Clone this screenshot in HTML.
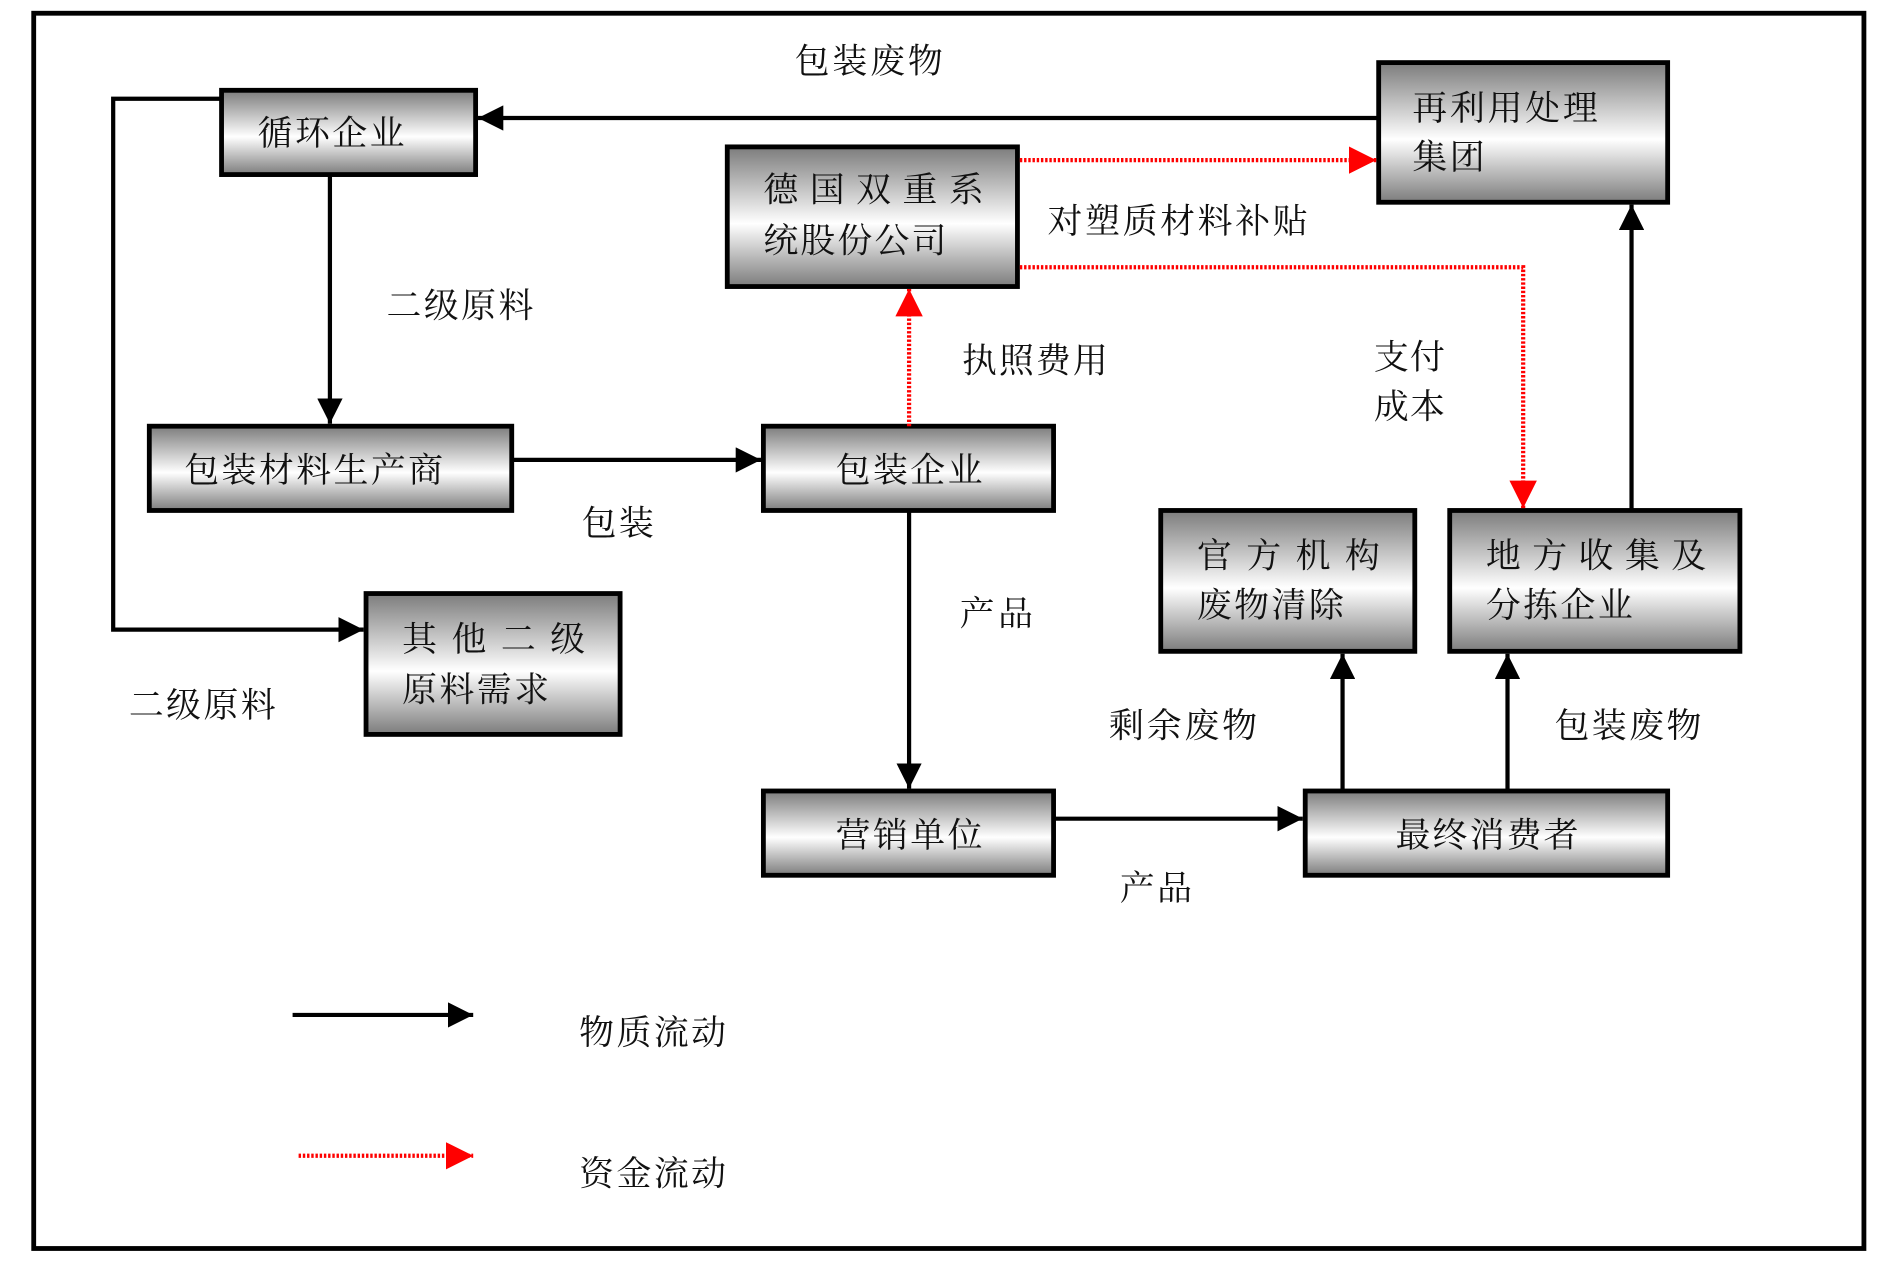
<!DOCTYPE html>
<html><head><meta charset="utf-8"><style>
html,body{margin:0;padding:0;background:#fff;}
svg{display:block;}
text{font-family:"Liberation Serif","Noto Serif CJK SC",serif;font-size:29px;fill:#111;dominant-baseline:central;}
</style></head><body>
<svg width="1888" height="1281" viewBox="0 0 1568 1064" preserveAspectRatio="none" xmlns="http://www.w3.org/2000/svg">
<defs>
<linearGradient id="g" x1="0" y1="0" x2="0" y2="1">
<stop offset="0" stop-color="#7c7c7c"/>
<stop offset="0.55" stop-color="#ffffff"/>
<stop offset="1" stop-color="#7c7c7c"/>
</linearGradient>
<marker id="ab" viewBox="0 0 10 10" refX="10" refY="5" markerWidth="6" markerHeight="6" markerUnits="strokeWidth" orient="auto"><path d="M0,0L10,5L0,10z" fill="#000"/></marker>
<marker id="ar" viewBox="0 0 10 10" refX="10" refY="5" markerWidth="6.5" markerHeight="6.5" markerUnits="strokeWidth" orient="auto"><path d="M0,0L10,5L0,10z" fill="#f00"/></marker>
</defs>
<rect x="28" y="11" width="1520" height="1026" fill="none" stroke="#000" stroke-width="4"/>

<g stroke="#000" stroke-width="4" fill="url(#g)">
<rect x="184" y="75" width="211" height="70"/>
<rect x="1145" y="52" width="240" height="116"/>
<rect x="604" y="122" width="241" height="116"/>
<rect x="124" y="354" width="301" height="70"/>
<rect x="634" y="354" width="241" height="70"/>
<rect x="304" y="493" width="211" height="117"/>
<rect x="964" y="424" width="211" height="117"/>
<rect x="1204" y="424" width="241" height="117"/>
<rect x="634" y="657" width="241" height="70"/>
<rect x="1084" y="657" width="301" height="70"/>
</g>

<g stroke="#000" stroke-width="3.5" fill="none">
<line x1="1145" y1="98" x2="397" y2="98" marker-end="url(#ab)"/>
<polyline points="184,82 94,82 94,523 302,523" marker-end="url(#ab)"/>
<line x1="274" y1="145" x2="274" y2="352" marker-end="url(#ab)"/>
<line x1="425" y1="382" x2="632" y2="382" marker-end="url(#ab)"/>
<line x1="755" y1="424" x2="755" y2="655" marker-end="url(#ab)"/>
<line x1="875" y1="680" x2="1082" y2="680" marker-end="url(#ab)"/>
<line x1="1115" y1="657" x2="1115" y2="543" marker-end="url(#ab)"/>
<line x1="1252" y1="657" x2="1252" y2="543" marker-end="url(#ab)"/>
<line x1="1355" y1="424" x2="1355" y2="170" marker-end="url(#ab)"/>
<line x1="243" y1="843" x2="393" y2="843" marker-end="url(#ab)"/>
</g>
<g stroke="#f00" stroke-width="3.5" fill="none" stroke-dasharray="2 1.5">
<line x1="755" y1="354" x2="755" y2="240" marker-end="url(#ar)"/>
<line x1="847" y1="133" x2="1143" y2="133" marker-end="url(#ar)"/>
<polyline points="847,222 1265,222 1265,422" marker-end="url(#ar)"/>
<line x1="248" y1="960" x2="393" y2="960" marker-end="url(#ar)"/>
</g>

<g>
<text x="214" y="111" textLength="122">循环企业</text>
<text x="1173" y="90" textLength="154">再利用处理</text>
<text x="1173" y="131" textLength="60">集团</text>
<text x="634" y="158" textLength="183">德国双重系</text>
<text x="634" y="200" textLength="152">统股份公司</text>
<text x="153" y="391" textLength="215">包装材料生产商</text>
<text x="694" y="391" textLength="122">包装企业</text>
<text x="334" y="531" textLength="152">其他二级</text>
<text x="334" y="573" textLength="122">原料需求</text>
<text x="994" y="462" textLength="152">官方机构</text>
<text x="994" y="503" textLength="122">废物清除</text>
<text x="1234" y="462" textLength="183">地方收集及</text>
<text x="1234" y="503" textLength="122">分拣企业</text>
<text x="694" y="694" textLength="122">营销单位</text>
<text x="1159" y="694" textLength="152">最终消费者</text>

<text x="660" y="51" textLength="123">包装废物</text>
<text x="321" y="254" textLength="122">二级原料</text>
<text x="799" y="300" textLength="121">执照费用</text>
<text x="870" y="184" textLength="216">对塑质材料补贴</text>
<text x="1141" y="297" textLength="59">支付</text>
<text x="1141" y="338" textLength="59">成本</text>
<text x="483" y="435" textLength="60">包装</text>
<text x="797" y="510" textLength="61">产品</text>
<text x="921" y="603" textLength="123">剩余废物</text>
<text x="1291" y="603" textLength="122">包装废物</text>
<text x="930" y="738" textLength="60">产品</text>
<text x="107" y="586" textLength="122">二级原料</text>
<text x="481" y="858" textLength="122">物质流动</text>
<text x="481" y="975" textLength="122">资金流动</text>
</g>
</svg>
</body></html>
